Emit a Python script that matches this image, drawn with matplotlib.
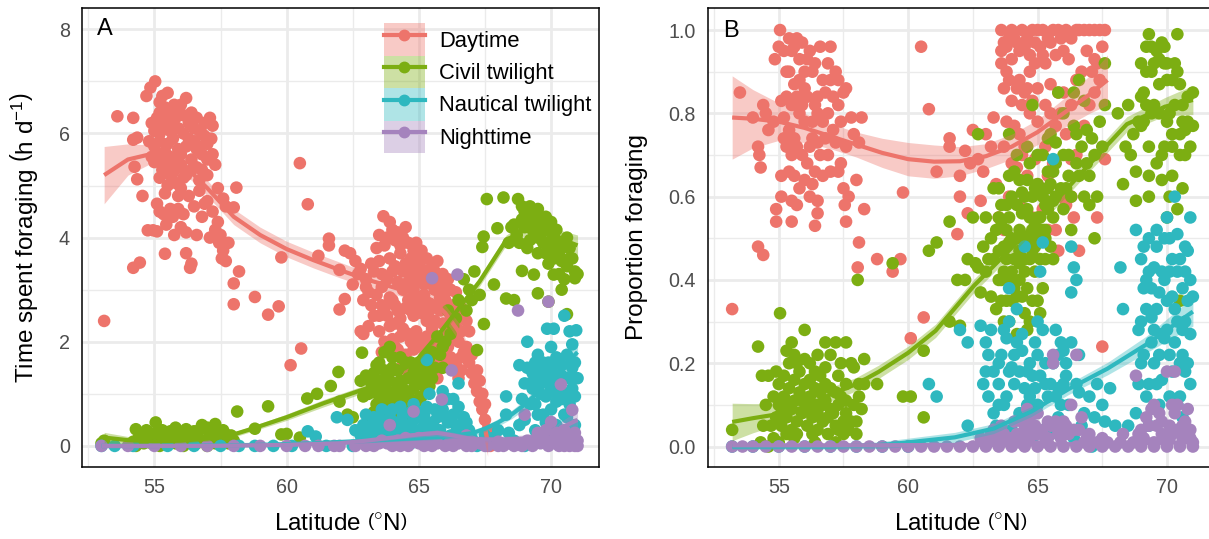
import numpy as np
import matplotlib.pyplot as plt
from matplotlib.patches import Patch
from matplotlib.lines import Line2D
from matplotlib.legend_handler import HandlerTuple

plt.rcParams['font.family'] = ['Liberation Sans', 'DejaVu Sans']
plt.rcParams['mathtext.fontset'] = 'custom'
plt.rcParams['mathtext.rm'] = 'Liberation Sans'
plt.rcParams['mathtext.it'] = 'Liberation Sans:italic'

periods = ['Daytime', 'Civil twilight', 'Nautical twilight', 'Nighttime']
colours = ['#ED746B', '#7CAE12', '#2EB8BF', '#A583BD']

# ---------------- panel A : hours per day ----------------
day_a = [(53.1, 2.4), (53.6, 6.33), (54.2, 6.3), (54.2, 5.88), (54.35, 5.92), (54.25, 5.36), (54.35, 5.12),
         (54.55, 4.8), (54.2, 3.42), (54.45, 3.52), (54.75, 4.14), (54.95, 4.14), (55.1, 4.12), (55.4, 3.69),
         (54.7, 6.72), (54.85, 6.88), (55.03, 7.0), (55.2, 6.6), (55.3, 6.72), (55.5, 6.78), (55.4, 6.5),
         (55.6, 6.45), (55.75, 6.55), (55.9, 6.35), (56.2, 6.68), (55.0, 6.05), (55.2, 6.0), (54.8, 5.85),
         (55.1, 5.6), (55.3, 5.5), (55.5, 5.8), (55.7, 5.9), (55.9, 5.7), (56.1, 6.0), (56.3, 6.2), (56.5, 6.1),
         (56.7, 6.05), (56.9, 6.2), (57.1, 6.3), (57.2, 6.15), (56.0, 5.4), (56.2, 5.2), (56.4, 5.5), (56.6, 5.7),
         (56.8, 5.6), (57.0, 5.8), (57.15, 5.9), (57.2, 5.6), (55.6, 5.2), (55.8, 5.05), (55.5, 5.0), (55.2, 5.15),
         (56.0, 4.95), (56.3, 4.8), (56.5, 4.6), (56.7, 4.9), (57.0, 5.2), (57.3, 5.4), (55.4, 4.85), (55.6, 4.55),
         (55.2, 4.5), (55.1, 4.65), (55.7, 4.4), (55.9, 4.55), (56.0, 4.2), (56.2, 4.1), (55.75, 4.05), (56.6, 4.05),
         (56.4, 3.5), (56.35, 3.42), (57.0, 4.7), (57.2, 4.5), (57.4, 4.3), (57.5, 4.05), (57.45, 3.9), (57.6, 3.75),
         (57.55, 3.6), (57.8, 3.9), (57.4, 4.95), (57.6, 4.75), (57.7, 4.6), (58.1, 4.96), (58.0, 4.58), (58.2, 3.35),
         (58.0, 3.12), (58.0, 2.72), (58.8, 2.86), (59.3, 2.52), (59.7, 2.68), (59.8, 3.62), (60.15, 1.55),
         (60.55, 1.87), (60.5, 5.43), (60.8, 4.64), (61.2, 3.65), (61.6, 3.98), (61.6, 3.85), (62.0, 3.38),
         (62.2, 3.75), (62.4, 3.7), (62.2, 2.82), (62.0, 2.62), (62.6, 3.55), (62.8, 3.4), (62.5, 3.1), (62.7, 3.3),
         (62.9, 2.15), (62.8, 2.2), (63.1, 2.95), (63.3, 2.5), (63.0, 3.2), (63.66, 4.41), (63.5, 3.55), (63.4, 3.8),
         (63.8, 4.0), (64.0, 4.15), (64.2, 4.1), (64.4, 4.0), (64.6, 3.9), (64.8, 3.75), (65.0, 3.6), (63.6, 3.3),
         (63.9, 3.6), (64.1, 3.45), (64.3, 3.7), (64.5, 3.5), (64.7, 3.3), (64.9, 3.15), (65.1, 3.4), (65.3, 3.3),
         (65.5, 3.1), (65.7, 3.2), (65.9, 3.0), (63.4, 2.9), (63.6, 2.7), (63.8, 2.5), (64.0, 2.8), (64.2, 2.6),
         (64.4, 3.0), (64.6, 2.8), (64.8, 2.5), (65.0, 2.7), (65.2, 2.9), (65.4, 2.6), (65.6, 2.4), (65.8, 2.6),
         (66.0, 2.8), (66.2, 2.5), (66.4, 2.3), (63.5, 2.2), (63.7, 2.0), (63.9, 2.3), (64.1, 1.9), (64.3, 2.1),
         (64.5, 1.75), (64.7, 2.0), (64.9, 2.2), (65.1, 1.9), (65.3, 2.1), (65.5, 1.8), (65.7, 2.0), (65.9, 1.65),
         (66.1, 1.9), (66.3, 2.05), (64.4, 1.55), (64.6, 1.4), (65.5, 1.5), (65.7, 1.3), (66.6, 1.45), (66.5, 1.3),
         (66.8, 1.9), (66.9, 1.6), (67.0, 1.4), (67.1, 1.2), (67.2, 1.05), (67.3, 0.85), (67.4, 0.7), (67.5, 0.5),
         (67.6, 0.3), (67.55, 0.05), (67.7, 0.0), (66.6, 2.2), (66.4, 2.55), (66.2, 3.0), (65.9, 3.3), (65.6, 3.35),
         (66.0, 3.1), (63.3, 3.35), (63.2, 2.7), (64.1, 2.35), (64.8, 3.0), (65.3, 2.4), (66.7, 2.5)]
day_a += [(54.9, 6.2), (55.1, 6.3), (55.3, 6.15), (55.5, 6.3), (55.7, 6.2), (55.9, 6.1), (56.1, 6.35),
          (56.3, 5.9), (56.5, 5.85), (56.7, 5.75), (56.9, 5.95), (55.0, 5.75), (55.2, 5.85), (55.4, 5.65),
          (55.6, 5.55), (55.8, 5.45), (56.0, 5.6), (56.2, 5.75), (56.4, 5.3), (56.6, 5.35), (56.8, 5.3), (57.0, 5.5),
          (55.3, 5.3), (55.5, 5.4), (55.7, 5.25), (55.9, 5.35), (56.1, 5.15), (55.0, 5.45), (54.9, 5.55),
          (55.2, 6.4), (55.4, 6.25), (55.6, 6.05), (55.8, 6.3), (56.0, 6.55), (56.4, 6.4), (56.6, 6.3), (56.8, 6.0),
          (55.45, 4.25), (56.1, 4.45), (56.8, 4.4), (56.9, 4.65), (57.3, 4.15), (57.1, 4.0), (57.7, 3.55),
          (56.2, 3.7), (55.9, 4.8), (56.7, 5.1), (55.35, 4.45),
          (63.5, 4.05), (63.7, 3.85), (63.9, 4.3), (64.1, 3.95), (64.3, 3.85), (64.5, 4.2), (64.7, 3.6), (64.9, 3.9),
          (65.1, 3.75), (65.3, 3.6), (65.5, 3.45), (65.7, 3.55), (63.6, 3.05), (63.8, 3.2), (64.0, 3.35),
          (64.2, 3.15), (64.4, 3.35), (64.6, 3.15), (64.8, 3.45), (65.0, 3.25), (65.2, 3.1), (65.4, 3.35),
          (65.6, 3.0), (65.8, 2.85), (66.0, 2.95), (66.1, 3.2), (66.3, 2.7), (63.5, 2.5), (63.7, 2.65), (63.9, 2.85),
          (64.1, 2.7), (64.3, 2.45), (64.5, 2.65), (64.7, 2.6), (64.9, 2.8), (65.1, 2.55), (65.3, 2.75), (65.5, 2.25),
          (65.7, 2.7), (65.9, 2.35), (66.1, 2.2), (66.3, 2.4), (66.5, 2.0), (66.7, 1.8), (66.9, 2.2), (63.6, 1.8),
          (63.8, 1.95), (64.0, 2.05), (64.2, 1.85), (64.4, 2.25), (64.6, 2.15), (64.8, 1.85), (65.0, 2.05),
          (65.2, 1.7), (65.4, 1.95), (65.6, 1.65), (65.8, 1.85), (66.0, 1.6), (66.2, 1.7), (66.4, 1.55), (66.6, 1.7),
          (67.0, 1.75), (67.2, 1.45), (67.3, 1.25), (67.4, 1.0), (67.5, 0.8), (64.9, 1.55), (65.3, 1.6), (63.0, 3.05),
          (63.2, 3.5), (62.9, 2.8), (63.1, 2.3), (66.4, 2.95), (66.6, 2.65), (66.8, 2.4)]

civil_a = [(53.0, 0.05), (54.3, 0.32), (55.05, 0.45), (54.5, 0.2), (54.8, 0.25), (55.3, 0.3), (55.6, 0.28),
           (55.9, 0.25), (56.2, 0.32), (56.5, 0.28), (56.8, 0.4), (57.0, 0.35), (57.3, 0.42), (57.6, 0.3),
           (57.9, 0.2), (54.6, 0.05), (55.0, 0.1), (55.5, 0.12), (56.0, 0.08), (56.4, 0.15), (56.9, 0.1),
           (57.4, 0.12), (57.8, 0.05), (54.3, 0.0), (55.2, 0.0), (56.1, 0.0), (57.0, 0.0), (58.13, 0.66),
           (58.8, 0.33), (59.3, 0.76), (59.8, 0.22), (60.0, 0.23), (60.5, 0.16), (60.78, 0.91), (61.15, 1.0),
           (61.67, 1.15), (61.96, 1.42), (62.0, 0.85), (62.3, 0.6), (62.5, 0.55), (62.8, 1.25), (62.85, 1.79),
           (63.1, 1.0), (63.3, 1.4), (63.5, 1.6), (63.7, 1.8), (63.9, 1.9), (63.4, 0.8), (63.6, 1.1), (63.8, 1.3),
           (64.0, 1.5), (64.2, 1.2), (64.4, 0.9), (64.6, 1.0), (64.8, 1.4), (65.0, 1.2), (63.7, 0.6), (64.0, 0.75),
           (64.3, 0.55), (64.6, 0.6), (64.9, 0.85), (65.2, 1.55), (65.5, 1.8), (65.7, 2.1), (65.9, 1.5), (66.1, 2.6),
           (66.3, 2.3), (66.5, 2.8), (66.7, 3.2), (66.9, 3.0), (67.1, 3.35), (67.3, 2.9), (67.45, 4.02),
           (67.4, 3.82), (67.57, 4.74), (68.2, 4.77), (68.75, 4.74), (67.97, 4.18), (67.84, 3.1), (68.3, 2.83),
           (68.6, 2.8), (67.46, 2.34), (67.2, 1.84), (68.5, 4.2), (68.7, 4.05), (68.9, 4.6), (69.0, 4.5),
           (69.2, 4.6), (69.4, 4.4), (69.6, 4.3), (69.8, 4.2), (70.0, 4.1), (70.2, 3.95), (70.4, 3.8), (68.8, 3.9),
           (69.1, 3.8), (69.3, 4.15), (69.5, 3.7), (69.7, 3.9), (69.9, 3.5), (70.1, 3.6), (70.3, 3.3), (70.5, 3.2),
           (70.7, 3.6), (70.6, 4.0), (70.9, 3.22), (71.0, 3.3), (69.5, 2.93), (69.9, 2.77), (70.4, 3.0),
           (70.6, 2.53), (70.1, 3.29), (69.35, 3.29), (68.9, 3.36), (63.2, 0.5), (63.9, 0.9), (64.3, 1.7),
           (64.7, 1.3), (65.1, 0.95), (65.4, 1.15), (64.1, 1.05), (63.3, 0.65)]
civil_a += [(54.4, 0.15), (54.7, 0.3), (54.9, 0.2), (55.1, 0.25), (55.4, 0.18), (55.7, 0.2), (55.8, 0.35),
            (56.0, 0.22), (56.3, 0.2), (56.6, 0.18), (56.7, 0.3), (57.1, 0.22), (57.2, 0.3), (57.5, 0.2),
            (57.7, 0.22), (58.0, 0.1), (54.2, 0.08), (54.9, 0.05), (55.8, 0.05), (56.6, 0.05), (57.3, 0.05),
            (55.3, 0.08), (56.2, 0.1), (57.6, 0.1), (53.1, 0.1),
            (63.2, 1.2), (63.4, 1.55), (63.5, 1.25), (63.6, 0.9), (63.7, 1.45), (63.8, 1.05), (63.9, 1.25),
            (64.0, 1.7), (64.1, 0.85), (64.2, 1.45), (64.3, 1.25), (64.4, 1.1), (64.5, 1.6), (64.5, 0.75),
            (64.6, 1.3), (64.7, 1.6), (64.8, 1.1), (64.9, 1.5), (65.0, 0.9), (65.0, 1.6), (65.1, 1.3), (65.2, 1.15),
            (65.3, 1.4), (65.4, 1.7), (65.5, 1.3), (65.6, 1.5), (65.8, 1.75), (65.9, 1.9), (66.0, 2.0), (66.2, 2.15),
            (63.5, 0.95), (63.8, 0.7), (64.1, 0.6), (64.4, 0.7), (63.3, 1.05), (62.9, 0.95), (63.0, 1.35),
            (66.4, 2.45), (66.8, 2.6), (67.0, 2.8),
            (68.9, 4.35), (69.0, 4.2), (69.1, 4.5), (69.2, 4.3), (69.3, 4.45), (69.4, 4.1), (69.5, 4.55),
            (69.6, 4.05), (69.7, 4.2), (69.8, 4.4), (69.9, 3.9), (70.0, 4.3), (70.1, 3.85), (70.2, 4.15),
            (70.3, 3.7), (70.5, 3.9), (70.7, 3.8), (70.9, 3.35), (69.2, 3.95), (69.5, 4.0), (69.8, 3.7),
            (70.0, 3.75), (70.4, 3.55), (68.6, 4.25), (68.4, 3.9), (70.6, 3.45), (70.8, 3.6)]

naut_a = [(53.0, 0.0), (53.5, 0.0), (54.2, 0.0), (55.5, 0.0), (56.5, 0.0), (57.5, 0.0), (58.2, 0.0),
          (58.8, 0.0), (59.5, 0.0), (60.2, 0.0), (60.8, 0.28), (61.1, 0.18), (61.9, 0.55), (62.3, 0.5),
          (62.8, 0.2), (63.0, 0.6), (63.2, 0.4), (63.4, 0.3), (63.6, 0.5), (63.8, 0.35), (64.0, 0.7), (64.2, 0.45),
          (64.4, 0.6), (64.6, 0.3), (64.8, 0.5), (65.0, 0.65), (65.2, 0.4), (65.4, 1.0), (65.6, 0.7), (65.8, 0.3),
          (65.9, 1.05), (66.1, 0.9), (66.3, 0.6), (66.5, 1.2), (66.6, 0.4), (66.8, 0.2), (67.0, 0.15), (65.3, 1.65),
          (64.3, 0.15), (63.5, 0.1), (65.1, 0.15), (66.0, 0.1), (67.5, 0.2), (68.0, 0.3), (68.3, 0.6), (68.3, 0.95),
          (68.8, 1.55), (69.0, 1.2), (69.2, 0.8), (69.3, 1.4), (69.5, 1.75), (69.6, 1.0), (69.7, 0.6), (69.8, 1.3),
          (69.9, 1.6), (70.0, 1.9), (70.1, 2.25), (70.2, 1.7), (70.3, 1.2), (70.4, 0.9), (70.5, 2.5), (70.6, 1.75),
          (70.7, 2.2), (70.8, 1.95), (70.9, 1.6), (70.6, 0.55), (70.8, 1.1), (70.2, 0.4), (69.4, 0.3), (68.6, 0.1),
          (69.1, 2.0), (69.85, 2.25), (70.95, 2.22), (63.1, 0.05), (63.9, 0.08), (64.7, 0.05), (65.5, 0.1),
          (66.3, 0.05), (67.2, 0.0), (68.1, 0.05), (69.0, 0.0), (69.9, 0.1), (70.7, 0.05), (61.5, 0.0), (62.5, 0.0)]
naut_a += [(63.1, 0.3), (63.3, 0.55), (63.5, 0.45), (63.7, 0.25), (63.9, 0.55), (64.1, 0.35), (64.3, 0.75),
           (64.5, 0.4), (64.7, 0.65), (64.9, 0.3), (65.1, 0.55), (65.3, 0.75), (65.5, 0.45), (65.7, 0.55),
           (65.9, 0.7), (66.1, 0.45), (66.3, 0.9), (66.5, 0.75), (66.7, 0.55), (64.0, 0.2), (64.6, 0.2), (65.2, 0.25),
           (65.8, 0.2), (66.4, 0.25), (62.9, 0.4), (62.6, 0.3), (68.9, 0.9), (69.1, 1.5), (69.3, 1.1), (69.4, 1.6),
           (69.5, 1.3), (69.6, 1.45), (69.7, 1.6), (69.8, 0.95), (69.9, 1.2), (70.0, 1.45), (70.1, 1.05),
           (70.2, 1.3), (70.3, 1.6), (70.4, 1.35), (70.5, 1.0), (70.6, 1.3), (70.7, 0.8), (70.8, 1.5), (70.9, 0.95),
           (71.0, 1.3), (69.0, 0.5), (69.5, 0.6), (70.0, 0.7), (70.5, 0.6), (68.8, 0.4), (67.8, 0.15), (68.4, 0.25),
           (63.2, 0.2), (63.6, 0.7), (64.0, 0.45), (64.4, 0.35), (64.8, 0.8), (65.2, 0.6), (65.6, 0.35), (66.0, 0.55),
           (66.4, 0.4), (66.8, 0.45), (63.4, 0.15), (64.2, 0.25), (65.0, 0.2), (65.4, 0.3), (66.2, 0.2), (66.9, 0.3),
           (69.2, 1.2), (69.6, 1.2), (70.0, 1.1), (70.4, 1.55), (70.8, 1.3), (69.4, 0.8), (70.2, 0.85), (70.6, 1.0),
           (69.8, 0.45), (70.9, 0.4)]

night_a = [(53.0, 0.0), (54.0, 0.0), (55.0, 0.0), (56.0, 0.0), (57.0, 0.0), (58.0, 0.0), (59.0, 0.0),
           (60.0, 0.0), (60.7, 0.0), (61.2, 0.0), (62.0, 0.0), (62.6, 0.0), (63.2, 0.02), (63.6, 0.1),
           (64.0, 0.0), (64.5, 0.15), (65.0, 0.05), (65.5, 0.0), (66.0, 0.0), (66.5, 0.05), (67.0, 0.0),
           (67.6, 0.0), (68.2, 0.0), (68.8, 0.05), (69.3, 0.0), (69.8, 0.1), (70.3, 0.0), (70.7, 0.0), (71.0, 0.0),
           (70.9, 0.0), (65.5, 3.22), (66.46, 3.29), (66.24, 1.45), (65.87, 0.89), (68.75, 2.6), (69.9, 2.77),
           (70.37, 1.18), (70.8, 0.69), (64.8, 0.66), (63.9, 0.4), (69.0, 0.6), (70.0, 0.46), (70.5, 0.3),
           (69.5, 0.25), (66.8, 0.2)]
night_a += [(63.5, 0.05), (64.2, 0.1), (64.8, 0.08), (65.3, 0.12), (65.7, 0.05), (66.2, 0.1), (67.3, 0.05),
            (68.0, 0.08), (68.6, 0.0), (69.1, 0.1), (69.6, 0.05), (70.1, 0.12), (70.4, 0.05), (70.6, 0.15),
            (70.8, 0.05), (71.0, 0.1), (69.8, 0.3), (70.2, 0.25), (61.8, 0.0), (63.0, 0.0), (64.3, 0.0), (65.2, 0.0),
            (66.8, 0.0), (68.0, 0.0), (69.9, 0.0), (70.5, 0.0), (63.3, 0.0), (63.8, 0.05), (64.6, 0.0),
            (65.0, 0.15), (65.6, 0.1), (66.3, 0.0), (67.0, 0.08), (67.5, 0.0), (68.4, 0.05), (68.9, 0.0),
            (69.4, 0.08), (70.0, 0.05), (70.3, 0.2), (70.7, 0.1), (70.9, 0.25), (69.7, 0.15)]

fit_x_a = {
    'Daytime': [53.1, 54, 55, 56, 57, 58, 59, 60, 61, 62, 63, 64, 65, 65.5, 66, 66.5, 67, 67.6],
    'Civil twilight': [53.1, 54, 55, 56, 57, 58, 58.7, 60, 61.4, 63.1, 64.8, 65.9, 67.3, 68.3, 69, 70, 71],
    'Nautical twilight': [53, 56, 59, 61, 63, 65, 66, 67, 67.5, 68, 68.5, 69, 69.5, 70, 70.5, 71],
    'Nighttime': [53, 57, 60, 62, 63, 64, 65, 65.7, 66.3, 67, 68, 69, 70, 71],
}
fit_y_a = {
    'Daytime': [5.2, 5.5, 5.62, 5.45, 4.95, 4.4, 4.05, 3.78, 3.57, 3.38, 3.2, 3.05, 2.9, 2.8, 2.55, 2.2, 1.55, 0.1],
    'Civil twilight': [0.16, 0.11, 0.09, 0.1, 0.14, 0.22, 0.33, 0.55, 0.82, 1.12, 1.58, 2.24, 3.16, 3.95, 4.15,
                       4.05, 3.85],
    'Nautical twilight': [0.0, 0.0, 0.02, 0.05, 0.1, 0.15, 0.18, 0.24, 0.33, 0.45, 0.6, 0.79, 1.03, 1.3, 1.55, 1.8],
    'Nighttime': [0.0, 0.0, 0.02, 0.05, 0.1, 0.16, 0.22, 0.25, 0.2, 0.13, 0.12, 0.14, 0.25, 0.5],
}
fit_se_a = {
    'Daytime': [0.55, 0.3, 0.16, 0.15, 0.15, 0.15, 0.15, 0.15, 0.15, 0.15, 0.14, 0.13, 0.12, 0.13, 0.15, 0.17,
                0.2, 0.3],
    'Civil twilight': [0.1, 0.07, 0.06, 0.05, 0.05, 0.05, 0.05, 0.06, 0.07, 0.07, 0.07, 0.08, 0.09, 0.1, 0.12,
                       0.14, 0.2],
    'Nautical twilight': [0.04, 0.03, 0.03, 0.03, 0.04, 0.04, 0.05, 0.06, 0.06, 0.07, 0.08, 0.09, 0.1, 0.12,
                          0.16, 0.25],
    'Nighttime': [0.04, 0.03, 0.03, 0.03, 0.04, 0.04, 0.05, 0.06, 0.06, 0.06, 0.06, 0.07, 0.09, 0.18],
}

# ---------------- panel B : proportion ----------------
day_b = [(53.2, 0.33), (53.5, 0.85), (54.0, 0.79), (54.2, 0.72), (54.25, 0.7), (54.4, 0.82), (54.3, 0.67),
         (54.2, 0.48), (54.4, 0.46), (54.9, 0.57), (54.9, 0.54), (55.05, 1.0), (55.0, 0.96), (54.85, 0.93),
         (55.1, 0.83), (55.2, 0.79), (55.3, 0.9), (55.4, 0.98), (55.5, 0.95), (55.7, 0.98), (55.9, 0.97),
         (55.6, 0.87), (55.8, 0.88), (56.0, 0.86), (55.4, 0.76), (55.6, 0.74), (55.8, 0.8), (56.0, 0.78),
         (56.2, 0.72), (56.4, 0.82), (56.1, 0.93), (56.3, 0.9), (56.5, 0.84), (56.7, 0.88), (56.9, 0.92),
         (57.0, 0.96), (57.2, 0.9), (57.3, 0.82), (57.5, 0.85), (57.6, 0.86), (57.4, 0.78), (57.8, 0.79),
         (57.2, 0.73), (57.0, 0.66), (56.8, 0.74), (56.6, 0.7), (56.4, 0.66), (55.4, 0.66), (55.6, 0.65),
         (55.1, 0.65), (55.1, 0.6), (55.5, 0.59), (55.7, 0.58), (56.2, 0.6), (56.5, 0.59), (56.5, 0.56),
         (56.4, 0.53), (55.5, 0.54), (57.3, 0.66), (57.5, 0.62), (57.7, 0.6), (57.55, 0.58), (57.6, 0.54),
         (58.0, 0.64), (58.2, 0.79), (58.1, 0.73), (58.3, 0.57), (58.1, 0.49), (58.05, 0.43), (58.8, 0.45),
         (59.4, 0.42), (59.7, 0.45), (59.8, 0.61), (60.5, 0.96), (60.8, 0.81), (60.6, 0.31), (60.1, 0.26),
         (61.1, 0.66), (61.6, 0.74), (61.6, 0.72), (62.0, 0.65), (62.0, 0.6), (62.3, 0.56), (61.9, 0.51),
         (62.2, 0.71), (62.4, 0.68), (62.5, 0.76), (62.7, 0.69), (62.9, 0.66), (62.8, 0.59), (63.0, 0.75),
         (63.2, 0.72), (63.3, 0.79), (63.4, 0.63), (63.5, 0.55), (63.6, 1.0), (63.7, 0.97), (63.6, 0.92),
         (63.8, 0.9), (63.9, 0.98), (64.0, 1.0), (64.2, 0.97), (64.4, 1.0), (64.6, 0.98), (64.8, 1.0), (65.0, 1.0),
         (65.2, 1.0), (65.4, 0.98), (65.6, 1.0), (65.8, 1.0), (66.0, 0.95), (63.7, 0.86), (64.0, 0.83),
         (64.3, 0.88), (64.5, 0.85), (64.7, 0.9), (64.9, 0.92), (65.2, 0.94), (65.5, 0.87), (65.8, 0.85),
         (64.1, 0.77), (64.3, 0.75), (64.5, 0.72), (64.7, 0.8), (65.0, 0.78), (65.3, 0.72), (65.6, 0.68),
         (64.2, 0.67), (64.6, 0.65), (65.0, 0.63), (65.2, 0.57), (65.7, 0.52), (65.8, 0.47), (66.2, 0.6),
         (66.4, 0.55), (66.6, 0.47), (66.3, 0.69), (66.5, 0.7), (66.8, 0.77), (67.0, 0.82), (67.2, 0.85),
         (67.4, 0.88), (66.6, 1.0), (66.8, 1.0), (67.0, 1.0), (67.2, 1.0), (67.4, 1.0), (67.6, 1.0), (66.9, 0.95),
         (67.2, 0.93), (67.5, 0.96), (66.7, 0.9), (67.3, 0.55), (67.6, 0.69), (67.5, 0.24), (66.2, 0.93),
         (65.9, 0.8), (66.1, 0.75)]
day_b += [(55.2, 0.95), (55.4, 0.9), (55.6, 0.96), (55.8, 0.93), (56.0, 0.9), (56.2, 0.95), (56.4, 0.92),
          (56.6, 0.96), (56.8, 0.85), (57.0, 0.88), (55.3, 0.84), (55.5, 0.82), (55.7, 0.84), (55.9, 0.82),
          (56.1, 0.84), (56.3, 0.78), (56.5, 0.8), (56.7, 0.78), (56.9, 0.8), (57.1, 0.84), (57.3, 0.88),
          (55.3, 0.72), (55.5, 0.7), (55.7, 0.72), (55.9, 0.7), (56.1, 0.68), (56.3, 0.74), (56.5, 0.73),
          (56.7, 0.65), (56.9, 0.7), (57.1, 0.76), (55.2, 0.74), (55.8, 0.62), (56.0, 0.64), (56.3, 0.63),
          (57.4, 0.68), (57.6, 0.72), (57.9, 0.75), (54.6, 0.76), (54.8, 0.78), (54.5, 0.8),
          (63.6, 0.95), (63.8, 0.96), (64.0, 0.93), (64.1, 0.98), (64.3, 0.95), (64.5, 0.96), (64.7, 0.94),
          (64.9, 0.97), (65.1, 0.96), (65.3, 0.92), (65.5, 0.97), (65.7, 0.94), (65.9, 0.98), (66.1, 1.0),
          (66.3, 0.98), (66.5, 1.0), (63.9, 0.88), (64.2, 0.86), (64.4, 0.82), (64.6, 0.86), (64.8, 0.83),
          (65.0, 0.86), (65.3, 0.82), (65.5, 0.8), (65.7, 0.77), (66.0, 0.85), (66.3, 0.82), (66.5, 0.88),
          (67.1, 0.9), (67.3, 0.92), (63.8, 0.78), (63.7, 0.72), (64.0, 0.68), (64.4, 0.7), (64.9, 0.69),
          (65.4, 0.65), (65.9, 0.6), (66.1, 0.58), (66.3, 0.6), (63.9, 0.6), (64.3, 0.58), (64.8, 0.55),
          (63.7, 0.52), (65.4, 0.52)]

civil_b = [(53.2, 0.04), (54.2, 0.24), (54.35, 0.17), (54.6, 0.17), (54.9, 0.18), (55.05, 0.32), (55.3, 0.23),
           (55.5, 0.25), (55.7, 0.2), (56.0, 0.21), (56.2, 0.2), (56.4, 0.18), (56.8, 0.25), (57.2, 0.25),
           (57.0, 0.22), (56.8, 0.19), (57.3, 0.17), (57.6, 0.15), (57.8, 0.2), (57.9, 0.19), (55.0, 0.1),
           (55.2, 0.12), (55.4, 0.14), (55.6, 0.11), (55.8, 0.13), (56.0, 0.15), (56.2, 0.12), (56.4, 0.1),
           (56.6, 0.13), (56.8, 0.11), (57.0, 0.09), (57.3, 0.1), (57.6, 0.08), (57.8, 0.06), (54.7, 0.05),
           (54.9, 0.07), (55.1, 0.05), (55.3, 0.07), (55.5, 0.04), (55.7, 0.06), (55.9, 0.08), (56.1, 0.05),
           (56.3, 0.07), (56.5, 0.04), (56.7, 0.06), (56.9, 0.03), (57.2, 0.05), (57.5, 0.03), (54.3, 0.01),
           (54.6, 0.0), (55.0, 0.01), (58.0, 0.06), (58.1, 0.12), (58.3, 0.21), (58.1, 0.15), (58.05, 0.4),
           (58.8, 0.15), (59.4, 0.44), (59.8, 0.12), (60.1, 0.12), (60.6, 0.23), (60.6, 0.07), (60.8, 0.47),
           (61.1, 0.49), (61.6, 0.54), (61.6, 0.3), (62.0, 0.29), (61.9, 0.4), (62.2, 0.4), (62.3, 0.45),
           (62.5, 0.55), (62.7, 0.75), (62.6, 0.44), (62.8, 0.37), (63.0, 0.42), (63.2, 0.5), (63.3, 0.62),
           (63.4, 0.33), (63.5, 0.47), (63.6, 0.53), (63.7, 0.3), (63.8, 0.58), (63.9, 0.49), (64.0, 0.42),
           (64.1, 0.66), (64.2, 0.36), (64.3, 0.52), (64.4, 0.61), (64.5, 0.45), (64.6, 0.57), (64.7, 0.68),
           (64.8, 0.6), (64.9, 0.53), (65.0, 0.63), (65.1, 0.55), (65.2, 0.7), (65.3, 0.58), (65.4, 0.66),
           (65.5, 0.75), (65.6, 0.59), (65.7, 0.73), (65.8, 0.85), (63.9, 0.75), (64.8, 0.82), (64.2, 0.27),
           (63.9, 0.3), (65.0, 0.35), (64.7, 0.3), (65.3, 0.45), (66.0, 0.57), (66.1, 0.62), (66.2, 0.7),
           (66.3, 0.52), (66.4, 0.77), (66.5, 0.68), (66.6, 0.88), (66.7, 0.72), (66.8, 0.6), (66.9, 0.76),
           (67.0, 0.65), (67.1, 0.74), (67.2, 0.5), (67.3, 0.6), (67.4, 0.78), (67.6, 0.92), (67.6, 0.82),
           (68.1, 0.8), (68.3, 0.63), (68.5, 0.82), (68.6, 0.7), (68.8, 0.59), (68.9, 0.78), (69.0, 0.92),
           (69.1, 0.85), (69.2, 0.96), (69.3, 0.99), (69.4, 0.9), (69.5, 0.82), (69.6, 0.95), (69.7, 0.87),
           (69.8, 0.97), (69.9, 0.92), (70.0, 0.88), (70.1, 0.8), (70.2, 0.75), (70.3, 0.92), (70.4, 0.99),
           (70.5, 0.87), (70.6, 0.82), (70.7, 0.76), (70.8, 0.78), (70.9, 0.72), (71.0, 0.77), (69.0, 0.77),
           (69.3, 0.72), (69.6, 0.68), (69.9, 0.72), (70.2, 0.65), (70.5, 0.7), (68.8, 0.66), (69.3, 0.6),
           (69.8, 0.64), (70.1, 0.6), (70.4, 0.57), (70.6, 0.62), (69.2, 0.82), (70.0, 0.55), (70.5, 0.35)]
civil_b += [(54.8, 0.12), (55.0, 0.15), (55.2, 0.17), (55.4, 0.1), (55.6, 0.16), (55.8, 0.18), (56.0, 0.11),
            (56.2, 0.16), (56.4, 0.14), (56.6, 0.17), (56.8, 0.15), (57.0, 0.14), (57.2, 0.13), (57.4, 0.12),
            (57.6, 0.11), (55.1, 0.08), (55.3, 0.03), (55.5, 0.09), (55.7, 0.03), (55.9, 0.11), (56.1, 0.09),
            (56.3, 0.03), (56.5, 0.08), (56.7, 0.1), (56.9, 0.07), (57.1, 0.08), (57.3, 0.04), (57.5, 0.06),
            (57.7, 0.04), (57.9, 0.1), (54.5, 0.1), (54.4, 0.05), (55.4, 0.2), (56.5, 0.22), (57.4, 0.2),
            (58.2, 0.09), (58.0, 0.03), (54.8, 0.02), (55.6, 0.02), (56.4, 0.01), (57.2, 0.01), (58.3, 0.15),
            (56.0, 0.28), (55.6, 0.22), (57.6, 0.25),
            (63.3, 0.45), (63.5, 0.55), (63.6, 0.4), (63.7, 0.48), (63.8, 0.45), (63.9, 0.55), (64.0, 0.5),
            (64.1, 0.45), (64.2, 0.58), (64.3, 0.44), (64.4, 0.5), (64.5, 0.6), (64.6, 0.5), (64.7, 0.55),
            (64.8, 0.52), (64.9, 0.62), (65.0, 0.55), (65.1, 0.62), (65.2, 0.6), (65.3, 0.52), (65.4, 0.57),
            (65.5, 0.63), (65.6, 0.66), (65.7, 0.6), (64.0, 0.35), (64.3, 0.4), (64.6, 0.38), (64.9, 0.42),
            (65.2, 0.38), (63.6, 0.35), (64.5, 0.32), (64.8, 0.35), (65.5, 0.48), (64.2, 0.7), (64.6, 0.72),
            (65.0, 0.7), (65.4, 0.74), (63.5, 0.62), (63.0, 0.55), (66.0, 0.7), (66.3, 0.6), (66.6, 0.65),
            (66.9, 0.68), (67.2, 0.7), (67.5, 0.72), (66.8, 0.83), (67.0, 0.58),
            (69.0, 0.84), (69.2, 0.9), (69.4, 0.96), (69.5, 0.92), (69.7, 0.93), (69.9, 0.96), (70.0, 0.92),
            (70.2, 0.88), (70.4, 0.9), (70.6, 0.78), (70.8, 0.84), (69.1, 0.78), (69.4, 0.8), (69.7, 0.8),
            (70.0, 0.78), (70.3, 0.82), (70.5, 0.75), (69.3, 0.65), (69.8, 0.7), (70.2, 0.72), (70.7, 0.7),
            (71.0, 0.85), (68.7, 0.75), (68.4, 0.72),
            (63.4, 0.52), (63.6, 0.58), (63.8, 0.52), (64.0, 0.6), (64.2, 0.5), (64.4, 0.56), (64.6, 0.64),
            (64.8, 0.47), (65.0, 0.5), (65.2, 0.52), (65.4, 0.62), (65.6, 0.55), (63.7, 0.42), (63.9, 0.4),
            (64.1, 0.38), (64.3, 0.47), (64.5, 0.42), (64.7, 0.45), (64.9, 0.48), (65.1, 0.45), (65.3, 0.5),
            (63.5, 0.4), (64.4, 0.36), (65.6, 0.45), (63.8, 0.35), (64.6, 0.28), (65.1, 0.32), (62.9, 0.48),
            (63.1, 0.45), (62.7, 0.43), (63.2, 0.36), (64.3, 0.64), (63.9, 0.65), (65.7, 0.68), (65.9, 0.62),
            (66.2, 0.65), (66.5, 0.75), (66.0, 0.8), (66.4, 0.85)]

naut_b = [(53.2, 0.0), (54.0, 0.0), (55.0, 0.0), (56.0, 0.0), (57.0, 0.0), (58.0, 0.0), (59.0, 0.0),
          (60.0, 0.0), (60.8, 0.15), (61.1, 0.12), (62.0, 0.28), (62.3, 0.25), (62.3, 0.05), (62.8, 0.29),
          (63.0, 0.25), (63.1, 0.22), (63.2, 0.28), (63.3, 0.18), (62.9, 0.15), (63.1, 0.12), (63.3, 0.08),
          (63.5, 0.15), (63.7, 0.1), (63.6, 0.22), (63.8, 0.26), (63.9, 0.3), (63.9, 0.38), (64.0, 0.19),
          (64.2, 0.25), (64.2, 0.33), (64.4, 0.23), (64.5, 0.14), (64.6, 0.1), (64.5, 0.48), (64.7, 0.2),
          (64.8, 0.17), (64.9, 0.25), (65.0, 0.22), (65.1, 0.17), (65.2, 0.28), (65.1, 0.42), (65.2, 0.49),
          (65.3, 0.15), (65.4, 0.05), (65.6, 0.2), (65.6, 0.69), (65.7, 0.28), (65.8, 0.14), (65.9, 0.1),
          (66.0, 0.23), (66.1, 0.17), (66.3, 0.25), (66.3, 0.48), (66.3, 0.37), (66.4, 0.43), (66.5, 0.4),
          (66.6, 0.13), (66.8, 0.08), (67.0, 0.12), (67.2, 0.07), (67.3, 0.15), (67.6, 0.06), (67.8, 0.14),
          (68.2, 0.43), (68.3, 0.33), (68.8, 0.52), (68.9, 0.28), (69.0, 0.45), (69.1, 0.38), (69.2, 0.33),
          (69.3, 0.5), (69.4, 0.31), (69.5, 0.43), (69.6, 0.48), (69.7, 0.37), (69.8, 0.27), (69.9, 0.5),
          (70.0, 0.55), (70.1, 0.42), (70.2, 0.36), (70.3, 0.6), (70.4, 0.51), (70.5, 0.45), (70.6, 0.38),
          (70.7, 0.42), (70.8, 0.47), (70.9, 0.55), (71.0, 0.36), (68.9, 0.15), (69.2, 0.12), (69.5, 0.2),
          (69.8, 0.16), (70.1, 0.22), (70.4, 0.1), (70.7, 0.18), (70.9, 0.27), (69.3, 0.05), (68.5, 0.05),
          (70.6, 0.07), (63.2, 0.02), (64.0, 0.04), (64.8, 0.02), (65.5, 0.03), (66.4, 0.02), (67.1, 0.0)]
naut_b += [(69.0, 0.3), (69.2, 0.4), (69.4, 0.38), (69.6, 0.33), (69.8, 0.42), (70.0, 0.35), (70.2, 0.45),
           (70.4, 0.3), (70.6, 0.28), (70.8, 0.35), (69.1, 0.22), (69.5, 0.28), (69.9, 0.26), (70.3, 0.25),
           (70.7, 0.3), (69.3, 0.15), (69.7, 0.1), (70.1, 0.12), (70.5, 0.2), (70.9, 0.15), (63.4, 0.05),
           (63.8, 0.12), (64.3, 0.08), (64.7, 0.12), (65.0, 0.1), (65.4, 0.12), (65.8, 0.07), (66.2, 0.1),
           (66.7, 0.05), (63.5, 0.2), (64.1, 0.15), (64.9, 0.08), (65.5, 0.15), (66.0, 0.15), (64.4, 0.27),
           (65.8, 0.22), (63.0, 0.18), (67.5, 0.1), (68.0, 0.05), (68.8, 0.08),
           (63.5, 0.1), (63.9, 0.18), (64.1, 0.22), (64.6, 0.18), (64.9, 0.14), (65.3, 0.2), (65.7, 0.12),
           (66.1, 0.2), (66.5, 0.15), (63.7, 0.28), (64.3, 0.18), (65.0, 0.3), (65.9, 0.25), (66.6, 0.22),
           (69.1, 0.48), (69.3, 0.42), (69.6, 0.52), (69.9, 0.4), (70.1, 0.5), (70.4, 0.42), (70.7, 0.48),
           (70.9, 0.4), (69.4, 0.25), (69.7, 0.22), (70.0, 0.28), (70.3, 0.33), (70.6, 0.22), (70.8, 0.2),
           (69.0, 0.2), (69.6, 0.15), (70.2, 0.18), (70.5, 0.12)]

night_b = [(53.2, 0.0), (53.6, 0.0), (54.0, 0.0), (54.5, 0.0), (55.0, 0.0), (55.5, 0.0), (56.0, 0.0),
           (56.5, 0.0), (57.0, 0.0), (57.5, 0.0), (58.0, 0.0), (58.5, 0.0), (59.0, 0.0), (59.5, 0.0),
           (60.0, 0.0), (60.5, 0.0), (61.0, 0.0), (61.5, 0.0), (62.0, 0.0), (62.5, 0.0), (63.0, 0.0), (63.5, 0.0),
           (64.0, 0.0), (64.5, 0.0), (65.0, 0.0), (65.5, 0.0), (66.0, 0.0), (66.5, 0.0), (67.0, 0.0), (67.5, 0.0),
           (68.0, 0.0), (68.5, 0.0), (69.0, 0.0), (69.5, 0.0), (70.0, 0.0), (70.5, 0.0), (71.0, 0.0), (62.8, 0.02),
           (63.3, 0.04), (63.7, 0.03), (64.1, 0.06), (64.4, 0.03), (64.6, 0.09), (64.9, 0.05), (65.2, 0.03),
           (65.4, 0.06), (65.6, 0.2), (65.6, 0.22), (65.8, 0.04), (66.1, 0.05), (66.3, 0.1), (66.5, 0.22),
           (66.6, 0.04), (67.0, 0.03), (67.5, 0.02), (68.3, 0.03), (68.8, 0.17), (69.0, 0.04), (69.2, 0.07),
           (69.4, 0.09), (69.6, 0.05), (69.8, 0.03), (70.0, 0.18), (70.1, 0.05), (70.3, 0.18), (70.3, 0.08),
           (70.5, 0.04), (70.7, 0.06), (70.9, 0.04), (65.0, 0.08), (64.3, 0.01)]
night_b += [(63.1, 0.01), (63.5, 0.02), (63.9, 0.01), (64.2, 0.03), (64.7, 0.02), (65.1, 0.04), (65.3, 0.01),
            (65.9, 0.02), (66.2, 0.03), (66.8, 0.01), (67.3, 0.01), (68.7, 0.01), (69.1, 0.02), (69.5, 0.01),
            (69.9, 0.02), (70.2, 0.03), (70.6, 0.02), (71.0, 0.01), (64.5, 0.05), (65.7, 0.06), (69.7, 0.08),
            (70.8, 0.09), (70.4, 0.1), (63.2, 0.03), (63.6, 0.05), (64.0, 0.02), (64.4, 0.06), (64.8, 0.04),
            (65.0, 0.03), (65.4, 0.02), (65.8, 0.03), (66.0, 0.06), (66.4, 0.04), (66.9, 0.02), (67.7, 0.01),
            (68.2, 0.01), (68.9, 0.03), (69.3, 0.05), (69.8, 0.06), (70.1, 0.02), (70.4, 0.04), (70.6, 0.05),
            (70.9, 0.02), (64.7, 0.07), (65.5, 0.05), (66.7, 0.07), (69.5, 0.1), (70.2, 0.1)]

fit_x_b = {
    'Daytime': [53.2, 54, 55, 56, 57, 58, 59, 60, 61, 62, 63, 64, 65, 66, 67, 67.7],
    'Civil twilight': [53.2, 54, 55, 56, 56.6, 57, 58, 58.85, 60, 61.06, 62.54, 64, 65.5, 66.96, 68.45, 69.92, 71],
    'Nautical twilight': [53.2, 55, 57, 58.85, 60, 61.8, 63.3, 64.76, 66.2, 67.7, 69.2, 71],
    'Nighttime': [53.2, 58, 63, 67, 71],
}
fit_y_b = {
    'Daytime': [0.79, 0.787, 0.78, 0.765, 0.745, 0.725, 0.705, 0.69, 0.684, 0.685, 0.697, 0.72, 0.755, 0.8,
                0.845, 0.88],
    'Civil twilight': [0.059, 0.068, 0.078, 0.095, 0.113, 0.125, 0.15, 0.179, 0.225, 0.278, 0.386, 0.477,
                       0.576, 0.675, 0.774, 0.816, 0.832],
    'Nautical twilight': [0.0, 0.0, 0.0, 0.003, 0.01, 0.022, 0.043, 0.084, 0.138, 0.187, 0.245, 0.324],
    'Nighttime': [0.003, 0.003, 0.004, 0.006, 0.01],
}
fit_se_b = {
    'Daytime': [0.1, 0.07, 0.045, 0.035, 0.03, 0.03, 0.035, 0.04, 0.04, 0.035, 0.03, 0.03, 0.03, 0.035,
                0.045, 0.06],
    'Civil twilight': [0.045, 0.035, 0.025, 0.02, 0.018, 0.017, 0.016, 0.016, 0.016, 0.016, 0.016, 0.016,
                       0.016, 0.017, 0.018, 0.022, 0.035],
    'Nautical twilight': [0.006, 0.006, 0.006, 0.008, 0.01, 0.012, 0.012, 0.012, 0.013, 0.015, 0.02, 0.035],
    'Nighttime': [0.004, 0.004, 0.004, 0.005, 0.008],
}

points_a = dict(zip(periods, [day_a, civil_a, naut_a, night_a]))
points_b = dict(zip(periods, [day_b, civil_b, naut_b, night_b]))

fig = plt.figure(figsize=(12.09, 5.39), dpi=100)
ax_a = fig.add_axes([0.0682, 0.1341, 0.4270, 0.8511])
ax_b = fig.add_axes([0.5859, 0.1341, 0.4179, 0.8511])


def draw_panel(ax, pts, fx, fy, fse):
    # points first (group order), then smoothers on top, like ggplot
    for name, col in zip(periods, colours):
        p = np.array(pts[name])
        ax.scatter(p[:, 0], p[:, 1], s=82, color=col, edgecolors='none', zorder=2)
    for name, col in zip(periods, colours):
        x = np.array(fx[name])
        y = np.array(fy[name])
        se = np.array(fse[name])
        ax.fill_between(x, y - se, y + se, color=col, alpha=0.38, lw=0, zorder=3)
        ax.plot(x, y, color=col, lw=3, zorder=3, solid_capstyle='butt')
    ax.set_xlim(52.28, 71.8)
    ax.set_xticks([55, 60, 65, 70])
    ax.set_xticks([52.5, 57.5, 62.5, 67.5], minor=True)
    ax.grid(which='major', color='#EBEBEB', lw=2.0)
    ax.grid(which='minor', color='#EBEBEB', lw=1.0)
    ax.set_axisbelow(True)
    ax.tick_params(which='both', length=0, labelsize=14.2, colors='#4D4D4D')
    ax.tick_params(axis='y', pad=9)
    ax.tick_params(axis='x', pad=8)
    for sp in ax.spines.values():
        sp.set_color('black')
        sp.set_linewidth(1.1)
    ax.set_xlabel(r'Latitude $\left(\mathrm{{}^{\circ}N}\right)$', fontsize=17.5, labelpad=12)


draw_panel(ax_a, points_a, fit_x_a, fit_y_a, fit_se_a)
ax_a.set_ylim(-0.40, 8.41)
ax_a.set_yticks([0, 2, 4, 6, 8])
ax_a.set_yticks([1, 3, 5, 7], minor=True)
ax_a.set_ylabel(r'Time spent foraging $\left(\mathrm{h\ d^{-1}}\right)$', fontsize=17.5)
ax_a.yaxis.set_label_coords(-0.082, 0.5)
ax_a.text(0.0275, 0.955, 'A', transform=ax_a.transAxes, fontsize=17, va='center', ha='left')

draw_panel(ax_b, points_b, fit_x_b, fit_y_b, fit_se_b)
ax_b.set_ylim(-0.0485, 1.053)
ax_b.set_yticks([0, 0.2, 0.4, 0.6, 0.8, 1.0])
ax_b.set_yticklabels(['0.0', '0.2', '0.4', '0.6', '0.8', '1.0'])
ax_b.set_yticks([0.1, 0.3, 0.5, 0.7, 0.9], minor=True)
ax_b.set_ylabel('Proportion foraging', fontsize=17.5)
ax_b.yaxis.set_label_coords(-0.119, 0.5)
ax_b.text(0.0297, 0.95, 'B', transform=ax_b.transAxes, fontsize=17, va='center', ha='left')

handles = [(Patch(facecolor=c, alpha=0.38, edgecolor='none'),
            Line2D([], [], color=c, lw=3, marker='o', markersize=7.5)) for c in colours]
ax_a.legend(handles, periods, handler_map={tuple: HandlerTuple(ndivide=1)}, loc='upper left',
            bbox_to_anchor=(0.584, 0.9667), frameon=False, fontsize=15.8, handlelength=1.87,
            handleheight=1.9, labelspacing=0, handletextpad=0.65, borderpad=0, borderaxespad=0,
            numpoints=1)

fig.savefig('out.png', dpi=100)
